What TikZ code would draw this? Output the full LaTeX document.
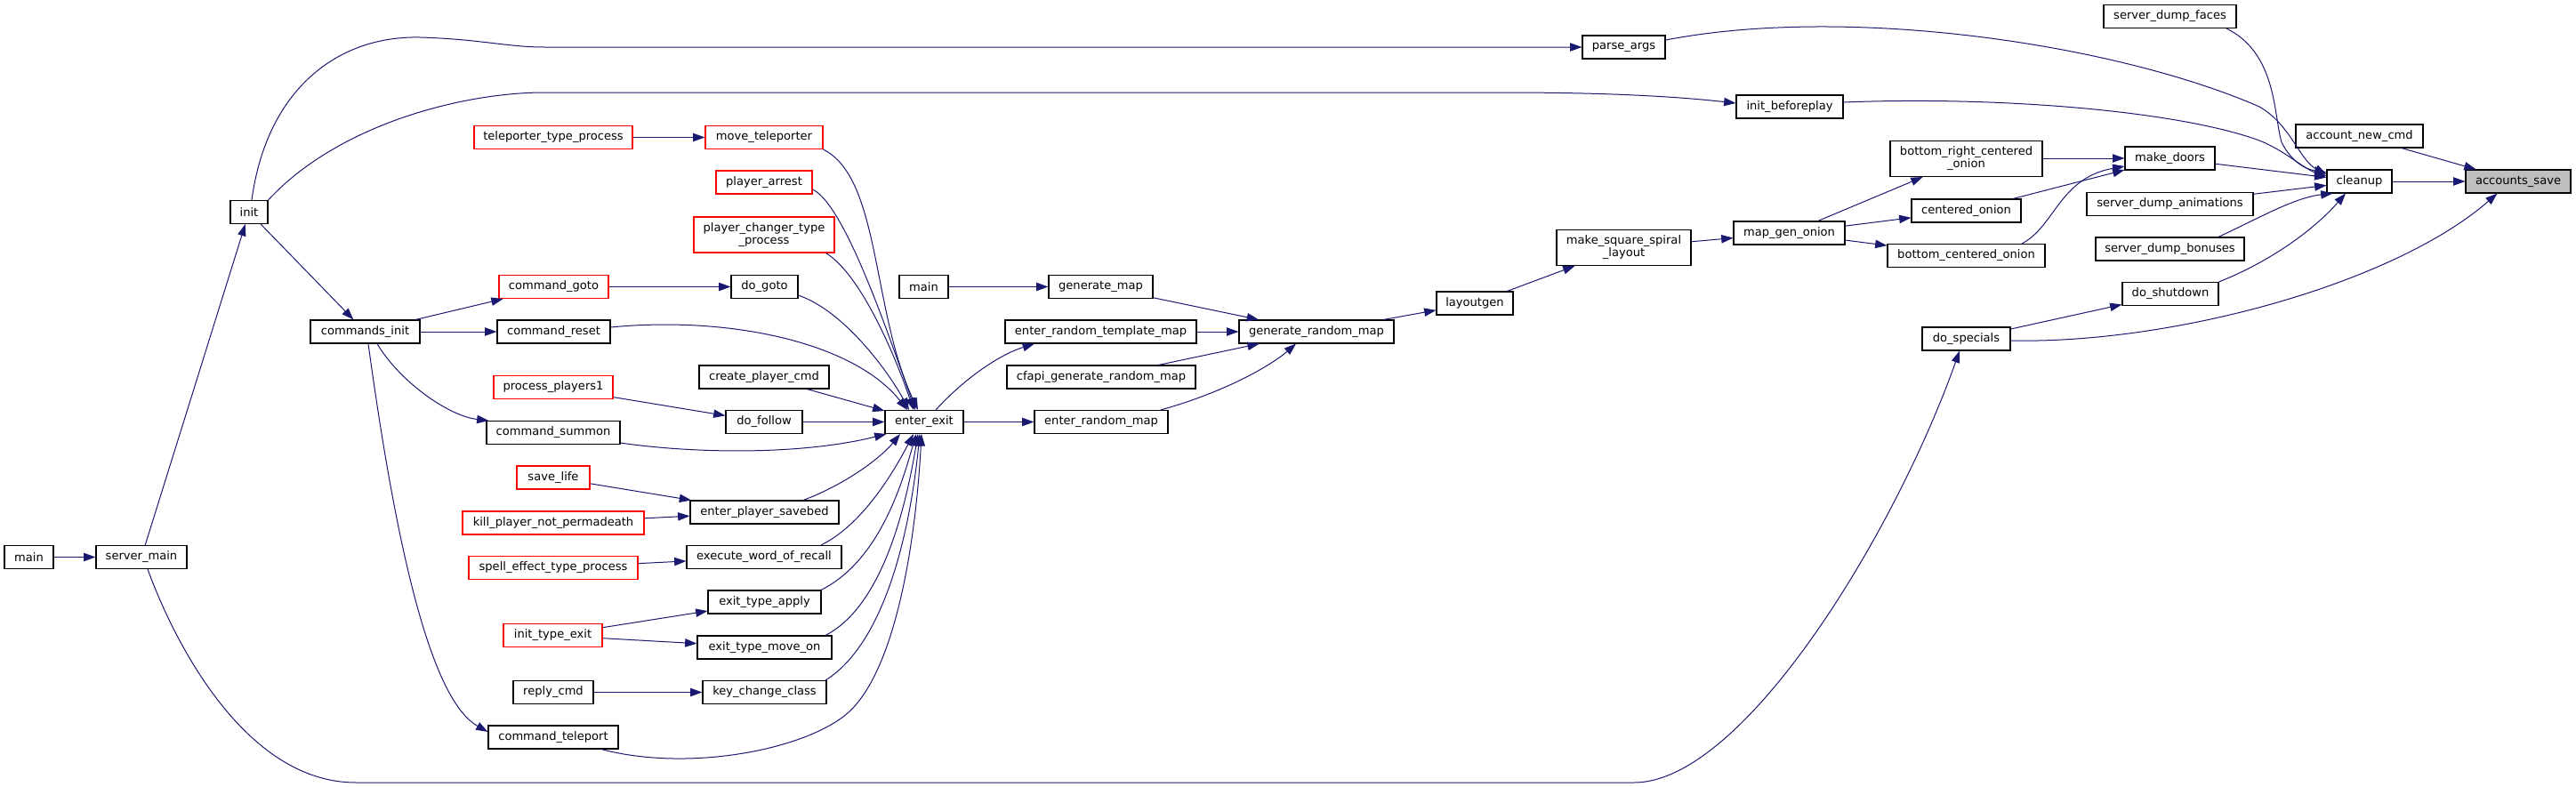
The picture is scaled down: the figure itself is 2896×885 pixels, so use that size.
\documentclass[tikz,border=0pt]{standalone}
\usepackage{fontspec}
\setmainfont{DejaVu Sans}
\usetikzlibrary{arrows.meta,calc}
\definecolor{edgeblue}{HTML}{191970}
\definecolor{truncred}{HTML}{FF0000}
\definecolor{mainfill}{HTML}{BFBFBF}
\tikzset{
  nd/.style={draw=black, line width=0.8pt, fill=white, inner sep=0pt, align=center,
    font=\fontsize{9.8pt}{10.5pt}\selectfont, minimum height=19.5pt},
  tall/.style={minimum height=30pt},
  trunc/.style={draw=truncred},
  focus/.style={fill=mainfill},
  e/.style={draw=edgeblue, line width=0.75pt, -{Triangle[length=10pt,width=7pt]}, fill=none},
}
\begin{document}
\begin{tikzpicture}[x=0.75pt,y=-0.75pt]
\useasboundingbox (0,0) rectangle (2896,885);
% ---------- nodes ----------
\node[nd, minimum width=55*0.75pt] (main1) at (32.5,626.5) {main};
\node[nd, minimum width=102*0.75pt] (sm) at (159,626.5) {server\_main};
\node[nd, minimum width=42*0.75pt] (init) at (280,238.5) {init};
\node[nd, minimum width=123*0.75pt] (ci) at (410.5,373) {commands\_init};
\node[nd, trunc, minimum width=178*0.75pt] (ttp) at (622,154.5) {teleporter\_type\_process};
\node[nd, trunc, minimum width=132*0.75pt] (mt) at (859,154.5) {move\_teleporter};
\node[nd, trunc, minimum width=108*0.75pt] (pa) at (859,205) {player\_arrest};
\node[nd, trunc, tall, minimum width=158*0.75pt] (pct) at (859,264) {player\_changer\_type\\\_process};
\node[nd, trunc, minimum width=123*0.75pt] (cg) at (622.5,322.5) {command\_goto};
\node[nd, minimum width=75*0.75pt] (dg) at (859.5,322.5) {do\_goto};
\node[nd, minimum width=127*0.75pt] (cr) at (622.5,373) {command\_reset};
\node[nd, minimum width=146*0.75pt] (cpc) at (859,424) {create\_player\_cmd};
\node[nd, trunc, minimum width=134*0.75pt] (pp1) at (622,435.5) {process\_players1};
\node[nd, minimum width=86*0.75pt] (df) at (859,474.5) {do\_follow};
\node[nd, minimum width=150*0.75pt] (cs) at (622,486.5) {command\_summon};
\node[nd, trunc, minimum width=82*0.75pt] (sl) at (622,537) {save\_life};
\node[nd, minimum width=167*0.75pt] (eps) at (859.5,576) {enter\_player\_savebed};
\node[nd, trunc, minimum width=204*0.75pt] (kp) at (622,588) {kill\_player\_not\_permadeath};
\node[nd, minimum width=174*0.75pt] (ewr) at (859,626.5) {execute\_word\_of\_recall};
\node[nd, trunc, minimum width=190*0.75pt] (set) at (622,638.5) {spell\_effect\_type\_process};
\node[nd, minimum width=127*0.75pt] (eta) at (859.5,677) {exit\_type\_apply};
\node[nd, trunc, minimum width=111*0.75pt] (ite) at (621.5,714.5) {init\_type\_exit};
\node[nd, minimum width=151*0.75pt] (etm) at (859.5,728) {exit\_type\_move\_on};
\node[nd, minimum width=90*0.75pt] (rc) at (622,778.5) {reply\_cmd};
\node[nd, minimum width=139*0.75pt] (kcc) at (859.5,778.5) {key\_change\_class};
\node[nd, minimum width=146*0.75pt] (ct) at (622,829) {command\_teleport};
\node[nd, minimum width=88*0.75pt] (ee) at (1039,474.5) {enter\_exit};
\node[nd, minimum width=55*0.75pt] (main2) at (1038.5,322.5) {main};
\node[nd, minimum width=117*0.75pt] (gm) at (1237.5,322.5) {generate\_map};
\node[nd, minimum width=215*0.75pt] (ertm) at (1237.5,373) {enter\_random\_template\_map};
\node[nd, minimum width=212*0.75pt] (cgrm) at (1238,424) {cfapi\_generate\_random\_map};
\node[nd, minimum width=150*0.75pt] (erm) at (1238,474.5) {enter\_random\_map};
\node[nd, minimum width=174*0.75pt] (grm) at (1480,373) {generate\_random\_map};
\node[nd, minimum width=86*0.75pt] (lg) at (1658,341) {layoutgen};
\node[nd, tall, minimum width=151*0.75pt] (mssl) at (1825.5,278.5) {make\_square\_spiral\\\_layout};
\node[nd, minimum width=125*0.75pt] (mgo) at (2011.5,262) {map\_gen\_onion};
\node[nd, tall, minimum width=171*0.75pt] (brco) at (2210.5,178.5) {bottom\_right\_centered\\\_onion};
\node[nd, minimum width=123*0.75pt] (co) at (2210.5,237) {centered\_onion};
\node[nd, minimum width=177*0.75pt] (bco) at (2210.5,287.5) {bottom\_centered\_onion};
\node[nd, minimum width=101*0.75pt] (md) at (2439.5,178) {make\_doors};
\node[nd, minimum width=93*0.75pt] (pargs) at (1825.5,53) {parse\_args};
\node[nd, minimum width=120*0.75pt] (ib) at (2012,120) {init\_beforeplay};
\node[nd, minimum width=149*0.75pt] (sdf) at (2439.5,18.5) {server\_dump\_faces};
\node[nd, minimum width=187*0.75pt] (sda) at (2439.5,229.5) {server\_dump\_animations};
\node[nd, minimum width=167*0.75pt] (sdb) at (2439.5,280) {server\_dump\_bonuses};
\node[nd, minimum width=108*0.75pt] (ds) at (2440,330.5) {do\_shutdown};
\node[nd, minimum width=99*0.75pt] (dsp) at (2210.5,381) {do\_specials};
\node[nd, minimum width=73*0.75pt] (cu) at (2652.5,204) {cleanup};
\node[nd, minimum width=143*0.75pt] (anc) at (2652.5,153) {account\_new\_cmd};
\node[nd, focus, minimum width=118*0.75pt] (as) at (2831,204) {accounts\_save};
% ---------- edges ----------
\draw[e] (main1) -- (sm);
\draw[e] (sm) -- (init);
\draw[e] ($(sm.south)+(7,0)$) .. controls (195,720) and (275,880) .. (400,880) -- (1837,880) .. controls (1960,880) and (2130,600) .. ($(dsp.south)+(-7.5,0)$);
\draw[e] ($(init.north)+(3,0)$) .. controls (300,100) and (380,40) .. (472,42) .. controls (540,44) and (570,53) .. (612,53) -- (pargs.west);
\draw[e] (init.north east) .. controls (380,140) and (520,104) .. (612,104) -- (1690,104) .. controls (1800,104) and (1880,108) .. ($(ib.west)+(0,-4)$);
\draw[e] (init) -- (ci);
\draw[e] (ci) -- (cg);
\draw[e] (ci) -- (cr);
\draw[e] ($(ci.south)+(13.5,0)$) .. controls (450,430) and (505,468) .. ($(cs.north west)+(3,0)$);
\draw[e] ($(ci.south)+(3.5,0)$) .. controls (450,650) and (490,790) .. ($(ct.west)+(0,-6)$);
\draw[e] (ttp) -- (mt);
\draw[e] (cg) -- (dg);
\draw[e] (pp1) -- (df);
\draw[e] (sl) -- (eps);
\draw[e] (kp) -- (eps);
\draw[e] (set) -- (ewr);
\draw[e] (ite) -- (eta);
\draw[e] (ite) -- (etm);
\draw[e] (rc) -- (kcc);
% into enter_exit
\draw[e] (mt.south east) .. controls (990,200) and (980,350) .. ($(ee.north)+(-7,0)$);
\draw[e] ($(pa.east)+(0,8)$) .. controls (950,230) and (1000,380) .. ($(ee.north)+(-10,0)$);
\draw[e] ($(pct.south east)+(-10,0)$) .. controls (970,310) and (1010,410) .. ($(ee.north)+(-12,0)$);
\draw[e] ($(dg.south east)+(0,-4)$) .. controls (950,350) and (1000,420) .. ($(ee.north)+(-17,0)$);
\draw[e] ($(cr.east)+(0,-5)$) .. controls (820,355) and (960,385) .. ($(ee.north)+(-19,0)$);
\draw[e] (cpc) -- (ee);
\draw[e] (df) -- (ee);
\draw[e] ($(cs.south east)+(0,-2)$) .. controls (780,510) and (900,512) .. ($(ee.south west)+(2,0)$);
\draw[e] ($(eps.north)+(43.5,0)$) .. controls (950,545) and (990,515) .. ($(ee.south)+(-27,0)$);
\draw[e] ($(ewr.north)+(64,0)$) .. controls (970,590) and (1005,530) .. ($(ee.south)+(-12,0)$);
\draw[e] ($(eta.north)+(63.5,0)$) .. controls (990,630) and (1015,540) .. ($(ee.south)+(-9,0)$);
\draw[e] ($(etm.north)+(68.5,0)$) .. controls (995,680) and (1020,560) .. ($(ee.south)+(-7,0)$);
\draw[e] ($(kcc.north)+(68.5,0)$) .. controls (1000,720) and (1025,580) .. ($(ee.south)+(-5,0)$);
\draw[e] ($(ct.south)+(54,0)$) .. controls (780,870) and (920,840) .. (960,795) .. controls (1010,740) and (1030,600) .. ($(ee.south)+(-3,0)$);
% map generation
\draw[e] ($(ee.north)+(13,0)$) .. controls (1080,430) and (1120,400) .. ($(ertm.south west)+(33.5,0)$);
\draw[e] (ee) -- (erm);
\draw[e] (main2) -- (gm);
\draw[e] (gm) -- (grm);
\draw[e] (ertm) -- (grm);
\draw[e] (cgrm) -- (grm);
\draw[e] ($(erm.north)+(67,0)$) .. controls (1380,440) and (1430,410) .. ($(grm.south)+(-23,0)$);
\draw[e] (grm) -- (lg);
\draw[e] (lg) -- (mssl);
\draw[e] (mssl) -- (mgo);
\draw[e] (mgo) -- (brco);
\draw[e] (mgo) -- (co);
\draw[e] (mgo) -- (bco);
\draw[e] (brco.east |- md.west) -- (md.west);
\draw[e] (co) -- (md);
\draw[e] ($(bco.north)+(62.5,0)$) .. controls (2310,255) and (2315,200) .. ($(md.west)+(0,9)$);
% into cleanup
\draw[e] (md) -- (cu);
\draw[e] ($(pargs.east)+(0,-8)$) .. controls (2080,5) and (2380,50) .. (2540,120) .. controls (2575,140) and (2585,180) .. ($(cu.west)+(0,-8)$);
\draw[e] ($(ib.east)+(0,-5)$) .. controls (2250,108) and (2450,125) .. (2540,158) .. controls (2570,170) and (2590,190) .. ($(cu.west)+(0,-6)$);
\draw[e] ($(sdf.south)+(63.5,0)$) .. controls (2560,60) and (2556,130) .. (2565,160) .. controls (2575,180) and (2590,190) .. ($(cu.west)+(0,-10)$);
\draw[e] (sda) -- (cu);
\draw[e] ($(sdb.north)+(54.5,0)$) .. controls (2540,245) and (2580,222) .. ($(cu.south west)+(7,0)$);
\draw[e] (ds.north east) .. controls (2550,295) and (2600,260) .. ($(cu.south)+(-15.5,0)$);
\draw[e] (dsp) -- (ds);
% into accounts_save
\draw[e] (cu) -- (as);
\draw[e] (anc) -- (as);
\draw[e] ($(dsp.east)+(0,2)$) .. controls (2440,387) and (2690,320) .. ($(as.south west)+(36,0)$);
\end{tikzpicture}
\end{document}
